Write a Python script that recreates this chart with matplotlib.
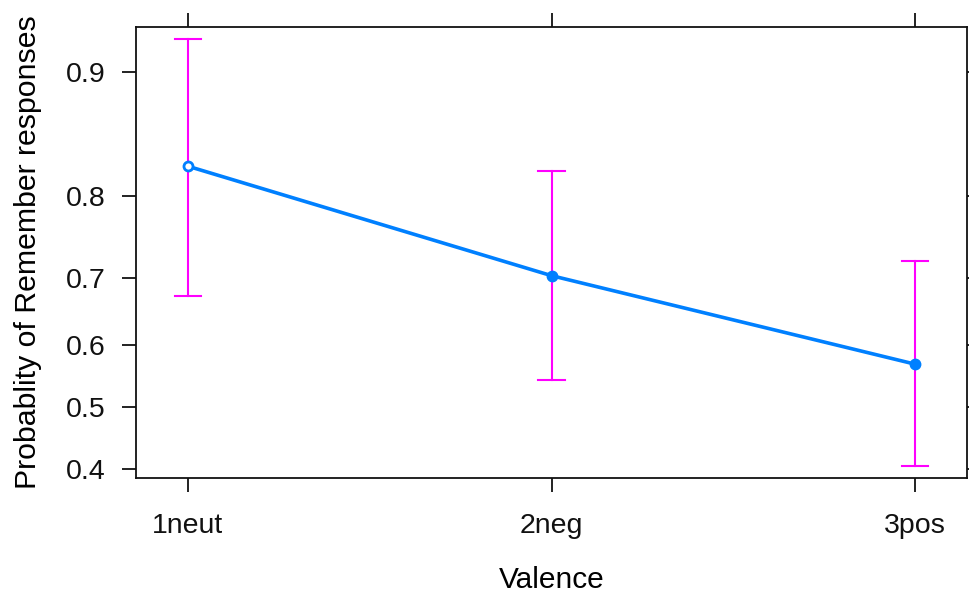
import matplotlib
matplotlib.use("Agg")
import matplotlib.pyplot as plt
from matplotlib.ticker import FixedLocator, FixedFormatter, NullLocator

plt.rcParams['font.family'] = ['Liberation Sans', 'DejaVu Sans']

# effect estimates (probability scale) with 95% CI
valence = ['1neut', '2neg', '3pos']
prob = [0.829, 0.703, 0.570]
lower = [0.675, 0.544, 0.405]
upper = [0.918, 0.825, 0.723]
yticks = [0.4, 0.5, 0.6, 0.7, 0.8, 0.9]

x = [1, 2, 3]

fig = plt.figure(figsize=(9.69, 5.94), dpi=100)
ax = fig.add_axes([136 / 969, 1 - 478 / 594, (967 - 136) / 969, (478 - 27) / 594])
ax.set_yscale('logit')

# confidence bars
for xi, lo, hi in zip(x, lower, upper):
    ax.plot([xi, xi], [lo, hi], color='#ff00ff', lw=1.5, zorder=2)
    ax.plot([xi - 0.037, xi + 0.037], [lo, lo], color='#ff00ff', lw=1.5, zorder=2)
    ax.plot([xi - 0.037, xi + 0.037], [hi, hi], color='#ff00ff', lw=1.5, zorder=2)

ax.plot(x, prob, color='#0080ff', lw=2.6, zorder=3)
ax.plot(x[:1], prob[:1], 'o', color='#0080ff', mfc='white', mew=2, ms=6.5, zorder=4)
ax.plot(x[1:], prob[1:], 'o', color='#0080ff', ms=7.5, zorder=4)

ax.set_xlim(0.857, 3.143)
ax.set_ylim(0.386, 0.9235)

ax.set_xticks(x)
ax.set_xticklabels(valence)
ax.yaxis.set_major_locator(FixedLocator(yticks))
ax.yaxis.set_major_formatter(FixedFormatter([str(t) for t in yticks]))
ax.yaxis.set_minor_locator(NullLocator())
ax.xaxis.set_minor_locator(NullLocator())

ax.tick_params(axis='both', direction='out', length=10, width=1.3, labelsize=20.5,
               colors='#111111', top=True, right=True, labeltop=False, labelright=False)
ax.tick_params(axis='y', pad=12)
ax.tick_params(axis='x', pad=15)
for s in ax.spines.values():
    s.set_linewidth(1.3)
    s.set_color('#111111')

ax.set_xlabel('Valence', fontsize=21.5, labelpad=20)
ax.set_ylabel('Probablity of Remember responses', fontsize=21.8, labelpad=17)

fig.savefig('out.png', dpi=100)
